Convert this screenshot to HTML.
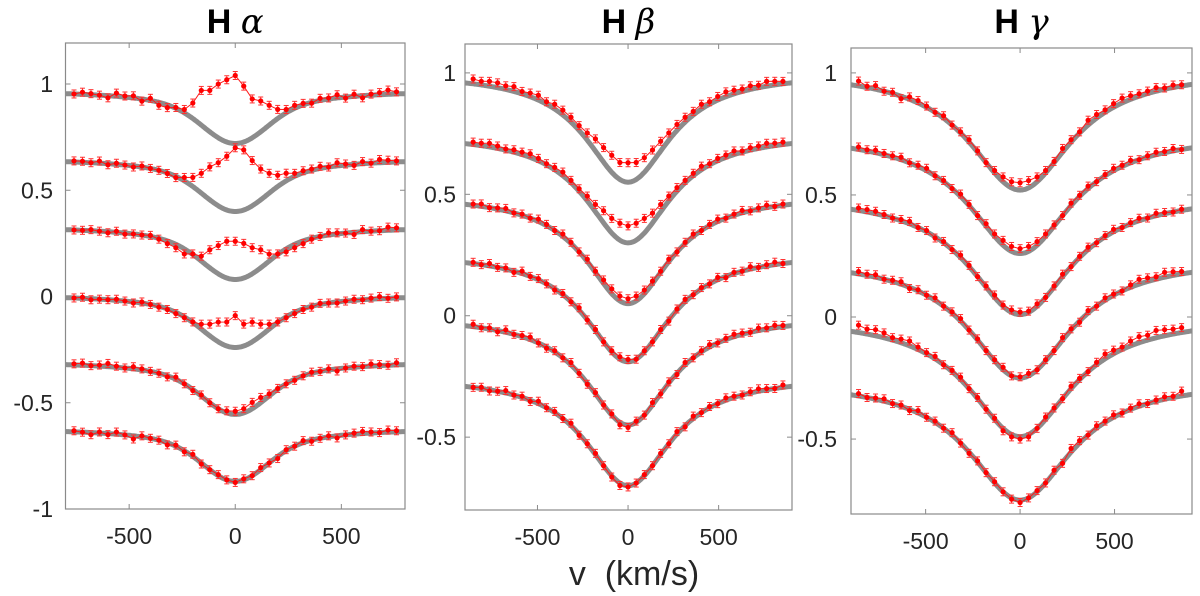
<!DOCTYPE html>
<html><head><meta charset="utf-8">
<style>
html,body{margin:0;padding:0;background:#fff;}
svg{display:block;font-family:"Liberation Sans",sans-serif;}
</style></head>
<body>
<svg id="chart" width="1200" height="596" viewBox="0 0 1200 596" xmlns="http://www.w3.org/2000/svg"></svg>
<script>
// ---- data ----
const haVel = [-760,-720,-680,-640,-600,-560,-520,-480,-440,-400,-360,-320,-280,-240,-200,-160,-120,-80,-40,0,40,80,120,160,200,240,280,320,360,400,440,480,520,560,600,640,680,720,760];
const hbVel = [-855,-810,-765,-720,-675,-630,-585,-540,-495,-450,-405,-360,-315,-270,-225,-180,-135,-90,-45,0,45,90,135,180,225,270,315,360,405,450,495,540,585,630,675,720,765,810,855];
const hgVel = hbVel;
const haContinuum = [0.97,0.65,0.33,0.01,-0.305,-0.62];
const haDepth = [0.25,0.25,0.25,0.25,0.25,0.25];
const hbContinuum = [1.0,0.75,0.50,0.26,0.0,-0.25];
const hbDepth = [0.45,0.45,0.45,0.45,0.45,0.45];
const hgContinuum = [1.01,0.75,0.50,0.24,0.0,-0.26];
const hgDepth = [0.49,0.49,0.49,0.49,0.49,0.49];
const haResid1 = [0,.01,.005,0,-.01,.015,.005,.01,-.01,.01,-.014,-.013,.004,.016,.073,.163,.195,.253,.293,.32,.263,.183,.145,.093,.043,.016,.014,.007,-.004,.01,.005,.015,-.005,.01,-.01,.005,.01,.02,.01];
const haResid2 = [.005,.005,0,.01,-.005,.005,0,-.005,.005,0,0,-.003,-.006,.016,.043,.093,.155,.203,.253,.30,.283,.213,.145,.093,.053,.036,.014,.01,.006,.01,0,.015,.005,-.005,.01,0,.015,.01,.005];
const haResid3 = [0,0,.005,0,-.005,.005,-.005,0,0,.005,-.004,-.013,-.016,-.024,.003,.023,.085,.133,.173,.18,.163,.123,.085,.033,.003,-.014,-.016,-.013,-.004,0,.01,.005,0,-.01,.01,0,0,.015,.01];
const haResid4 = [0,.005,-.005,0,0,.005,0,-.005,.005,0,-.004,-.003,-.006,-.004,.003,.023,.055,.093,.113,.15,.103,.093,.055,.023,.003,-.004,-.006,-.003,-.004,.005,0,-.005,0,.005,0,.005,.01,0,.005];
const haResid5 = [.005,.01,0,.005,.015,.005,0,.01,.005,0,0,-.005,.01,0,-.005,.005,0,0,.01,.015,.02,.03,.025,.01,.005,0,-.005,0,.005,0,.005,-.01,0,.005,0,.01,.005,0,.01];
const haResid6 = [.005,0,-.01,.005,-.005,.01,0,-.015,.005,0,0,-.01,.005,-.005,.01,-.005,0,.005,0,-.005,.005,0,.01,0,-.01,.005,0,.01,-.005,0,.005,-.01,0,.005,.01,.005,0,.01,.005];
const hbResid1 = [.02,.015,.02,.02,.015,.02,.01,.015,.02,.01,.02,.02,.02,.02,.03,.05,.06,.07,.07,.08,.07,.06,.05,.04,.03,.025,.02,.015,.02,.01,.015,.02,.015,.01,.015,.01,.02,.015,.01];
const hbResid2 = [.01,.01,.015,.01,.005,.01,.01,.015,.01,.005,.01,.015,.01,.01,.02,.03,.05,.06,.07,.07,.07,.06,.04,.03,.02,.015,.01,.01,.015,.005,.01,.01,.015,.005,.01,.01,.015,.01,.01];
const hbResid3 = [.005,.01,0,.005,.01,0,.005,0,.01,.005,0,.01,.005,0,.01,.005,.015,.02,.02,.02,.02,.015,.01,.005,.01,0,.005,.01,0,.005,.01,0,.005,.01,0,.005,.01,0,.005];
const hbResid4 = [.005,0,.01,0,.005,-.005,.01,0,.005,0,-.005,.005,0,.01,0,.005,0,.005,.01,.01,0,.005,0,.005,-.005,.005,.01,0,.005,0,.01,-.005,.005,0,.01,0,.005,.01,0];
const hbResid5 = [.01,0,.005,-.005,.01,0,.005,.01,0,-.005,.005,0,.01,0,-.005,.005,0,.005,-.01,-.01,.005,0,.01,0,.005,-.005,.01,0,.005,.01,0,.005,.01,.005,0,.01,.005,.01,.005];
const hbResid6 = [0,.005,-.005,0,.01,0,.005,-.005,.01,0,.005,0,.01,-.005,0,.005,0,-.005,-.01,-.005,0,.005,0,.005,0,.01,-.005,.01,0,.005,0,.01,.005,0,.005,.01,.005,0,.01];
const hgResid1 = [.02,.005,.015,0,.005,-.01,.01,.01,.005,0,.01,0,.005,.01,.005,0,.01,.02,.025,.03,.03,.02,.01,.005,.015,.01,.005,.02,.015,.01,.015,.02,.015,.01,.01,.015,.005,.01,.005];
const hgResid2 = [.01,.005,.01,.005,.005,.01,0,.005,.01,0,.005,0,.01,.005,0,.01,.01,.02,.02,.02,.02,.015,.01,.005,0,.01,.005,.01,0,.005,.01,.005,.01,0,.005,.01,.005,.01,0];
const hgResid3 = [.01,.01,.01,.005,0,.005,.01,0,.005,-.005,.005,0,.01,.005,0,.005,.01,.005,.01,.01,.005,.01,0,.005,.01,0,.005,.01,0,.005,.01,0,.005,.01,0,.01,.005,0,.005];
const hgResid4 = [.01,.005,.01,0,.005,.01,-.005,.005,0,.01,0,.005,.01,0,.005,0,.005,.01,0,.005,.01,0,.005,0,.01,.005,-.005,.01,0,.01,.005,0,.01,.02,.015,.01,.02,.015,.01];
const hgResid5 = [.03,.02,.025,.02,.01,.015,.02,.01,.005,.01,0,.005,.01,0,.005,0,.005,-.01,-.01,-.01,-.01,0,.01,.005,0,.01,.005,0,.01,.02,.015,.01,.02,.025,.02,.03,.025,.02,.02];
const hgResid6 = [.01,0,.005,.01,0,.005,-.005,.01,0,.005,0,.01,0,-.005,.005,0,.005,0,-.005,-.01,0,.005,0,.01,-.005,.015,.01,0,.01,.005,.01,0,.005,.01,0,.005,.01,.005,.02];
const haYTicks = [-1,-0.5,0,0.5,1];
const hbYTicks = [-0.5,0,0.5,1];
const hgYTicks = [-0.5,0,0.5,1];
const xTicks = [-500,0,500];

// ---- drawing ----
const svg = document.getElementById('chart');
const NS = 'http://www.w3.org/2000/svg';
function mk(tag, attrs, parent){const e=document.createElementNS(NS,tag);for(const k in attrs)e.setAttribute(k,attrs[k]);(parent||svg).appendChild(e);return e;}
function haShape(v){return 0.5*Math.exp(-(v/200)*(v/200))+0.5/(1+(v/300)*(v/300));}
function hbShape(v){return 1/(1+(v/285)*(v/285));}
function hgShape(v){return 1/(1+(v/330)*(v/330));}

const panels = [
 {key:'h-alpha',title:'α',L:65.5,R:405,T:43,B:509,xmin:-800,xmax:800,ymin:-1,ymax:1.193,vel:haVel,cont:haContinuum,depth:haDepth,shape:haShape,res:[haResid1,haResid2,haResid3,haResid4,haResid5,haResid6],yt:haYTicks,lblR:53},
 {key:'h-beta',title:'β',L:465,R:792,T:44,B:510,xmin:-900,xmax:905,ymin:-0.8,ymax:1.119,vel:hbVel,cont:hbContinuum,depth:hbDepth,shape:hbShape,res:[hbResid1,hbResid2,hbResid3,hbResid4,hbResid5,hbResid6],yt:hbYTicks,lblR:456},
 {key:'h-gamma',title:'γ',L:851,R:1192,T:48,B:514,xmin:-895,xmax:910,ymin:-0.807,ymax:1.102,vel:hgVel,cont:hgContinuum,depth:hgDepth,shape:hgShape,res:[hgResid1,hgResid2,hgResid3,hgResid4,hgResid5,hgResid6],yt:hgYTicks,lblR:837}
];

panels.forEach(p=>{
  const sx=v=>p.L+(v-p.xmin)/(p.xmax-p.xmin)*(p.R-p.L);
  const sy=y=>p.B-(y-p.ymin)/(p.ymax-p.ymin)*(p.B-p.T);
  const g=mk('g',{});
  
  
  const clipId='clip-'+p.key;
  const cp=mk('clipPath',{id:clipId},g);
  mk('rect',{x:p.L,y:p.T,width:p.R-p.L,height:p.B-p.T},cp);
  const fr=mk('rect',{x:p.L,y:p.T,width:p.R-p.L,height:p.B-p.T,fill:'none',stroke:'#8a8a8a','stroke-width':1.2},g);
  
  
  xTicks.forEach(t=>{
    const x=sx(t);
    mk('line',{x1:x,x2:x,y1:p.B,y2:p.B-5,stroke:'#8a8a8a'},g);
    mk('line',{x1:x,x2:x,y1:p.T,y2:p.T+5,stroke:'#8a8a8a'},g);
    const tl=mk('text',{x:x,y:p.B+35,'text-anchor':'middle','font-size':23,fill:'#262626'},g);
    tl.textContent=String(t);
    
    
  });
  p.yt.forEach(t=>{
    const y=sy(t);
    mk('line',{x1:p.L,x2:p.L+5,y1:y,y2:y,stroke:'#8a8a8a'},g);
    mk('line',{x1:p.R,x2:p.R-5,y1:y,y2:y,stroke:'#8a8a8a'},g);
    const tl=mk('text',{x:p.lblR,y:y+8,'text-anchor':'end','font-size':23,fill:'#262626'},g);
    tl.textContent=String(t);
    
    
  });
  const tt=mk('text',{x:(p.L+p.R)/2,y:33,'text-anchor':'middle','font-size':34,fill:'#000'},g);
  
  
  const h=mk('tspan',{'font-weight':'bold'},tt); h.textContent='H ';
  const gr=mk('tspan',{'font-style':'italic','font-family':'DejaVu Serif, serif'},tt); gr.textContent=p.title;
  const plot=mk('g',{'clip-path':'url(#'+clipId+')'},g);
  p.cont.forEach((c,si)=>{
    const d=p.depth[si];
    let path='';
    for(let v=p.xmin;v<=p.xmax;v+=5){path+=(path?'L':'M')+sx(v).toFixed(1)+','+sy(c-d*p.shape(v)).toFixed(1);}
    const mc=mk('path',{d:path,fill:'none',stroke:'#8c8c8c','stroke-width':5},plot);
    
    
    const obs=p.vel.map((v,i)=>c-d*p.shape(v)+p.res[si][i]);
    const line=mk('polyline',{points:p.vel.map((v,i)=>sx(v).toFixed(1)+','+sy(obs[i]).toFixed(1)).join(' '),fill:'none',stroke:'#ff1a1a','stroke-width':1},plot);
    
    
    const pts=mk('g',{},plot);
    
    
    p.vel.forEach((v,i)=>{
      const x=sx(v),y=sy(obs[i]),e=4;
      mk('line',{x1:x,x2:x,y1:y-e,y2:y+e,stroke:'#ff3030','stroke-width':1},pts);
      mk('line',{x1:x-2.5,x2:x+2.5,y1:y-e,y2:y-e,stroke:'#ff3030','stroke-width':1},pts);
      mk('line',{x1:x-2.5,x2:x+2.5,y1:y+e,y2:y+e,stroke:'#ff3030','stroke-width':1},pts);
      mk('circle',{cx:x,cy:y,r:2.6,fill:'#ff0000'},pts);
    });
  });
});
const xl=mk('text',{x:634,y:585,'text-anchor':'middle','font-size':34,fill:'#262626'});
xl.textContent='v  (km/s)';
xl.setAttribute('xml:space','preserve');
xl.style.whiteSpace='pre';


</script>
</body></html>
